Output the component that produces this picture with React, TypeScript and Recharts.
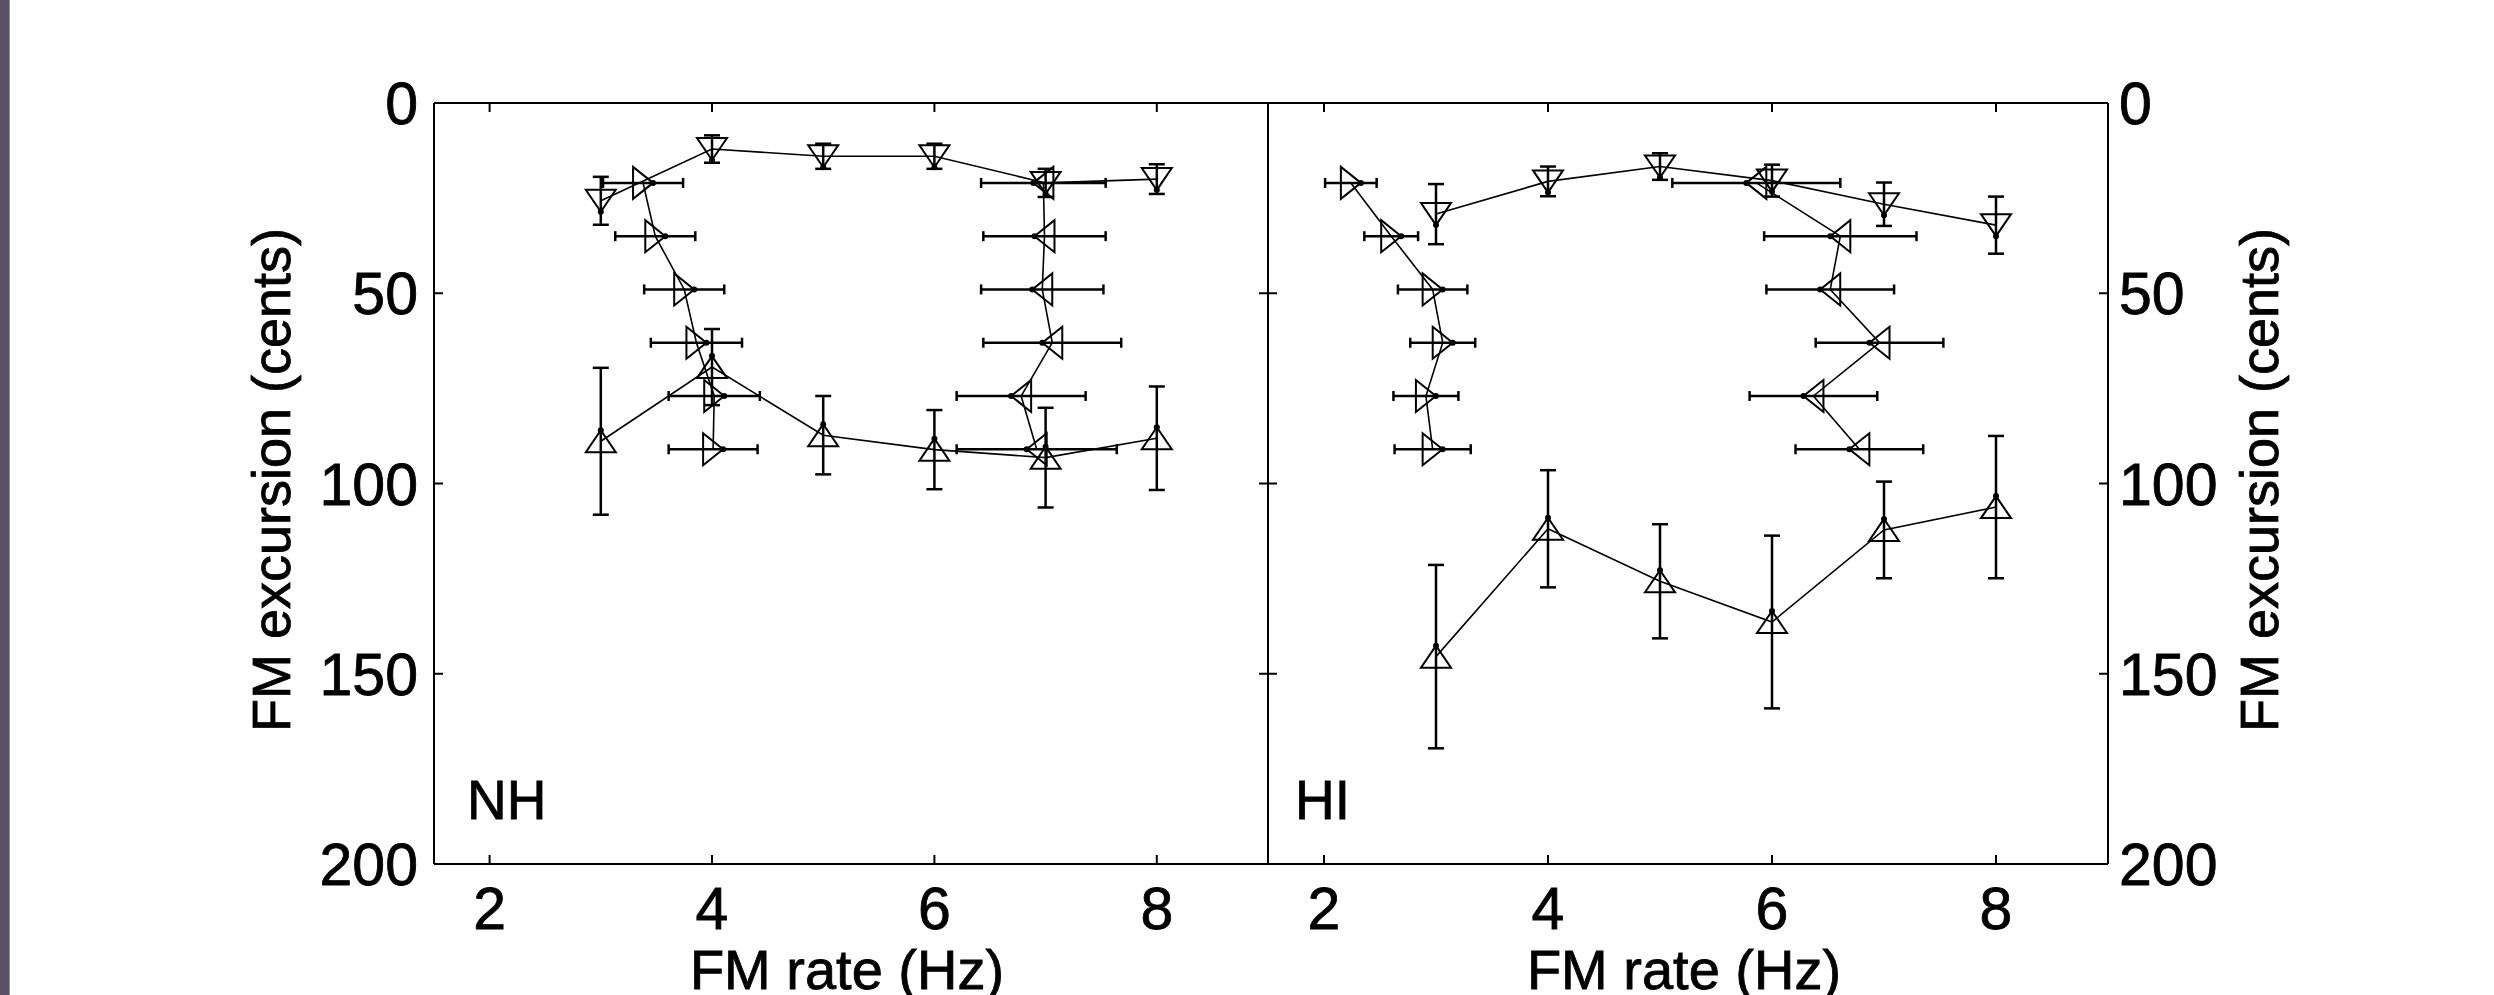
import React from 'react'
import { ScatterChart, Scatter, XAxis, YAxis, ErrorBar } from 'recharts'

// fixed FM rates (Hz) used by the vertical-error-bar conditions
const rates = [3, 4, 5, 6, 7, 8]
// fixed FM excursions (cents) used by the horizontal-error-bar conditions
const excursions = [21, 35, 49, 63, 77, 91]

const rateTicks = [2, 4, 6, 8]
const excursionTicks = [0, 50, 100, 150, 200]

// NH listeners
const nhDown = [25.7, 12.1, 14, 14, 21, 20]
const nhDownErr = [6.3, 3.6, 3.3, 3.3, 3.7, 3.9]
const nhUp = [88.9, 69.4, 87.3, 91.1, 93.2, 88.1]
const nhUpErr = [19.3, 10, 10.3, 10.4, 13.1, 13.6]
const nhRight = [3.38, 3.49, 3.75, 3.86, 4.02, 4.01]
const nhRightErr = [0.36, 0.36, 0.36, 0.41, 0.41, 0.4]
const nhLeft = [6.98, 6.99, 6.97, 7.06, 6.78, 6.92]
const nhLeftErr = [0.56, 0.55, 0.55, 0.62, 0.58, 0.72]

// HI listeners
const hiDown = [29.2, 20.6, 16.7, 20.4, 26.6, 32.1]
const hiDownErr = [7.9, 3.9, 3.5, 4.2, 5.7, 7.5]
const hiUp = [145.5, 111.9, 125.7, 136.4, 112.2, 106.2]
const hiUpErr = [24.1, 15.4, 15, 22.7, 12.7, 18.7]
const hiRight = [2.24, 2.6, 2.97, 3.06, 2.91, 2.97]
const hiRightErr = [0.23, 0.24, 0.31, 0.29, 0.29, 0.34]
const hiLeft = [5.86, 6.61, 6.52, 6.96, 6.37, 6.78]
const hiLeftErr = [0.75, 0.68, 0.57, 0.57, 0.57, 0.57]

const FONT = '"Liberation Sans", Arial, Helvetica, sans-serif'
const INK = '#000'
const TICK = 9
const TICK_FS = 59
const TITLE_FS = 54
// the original glyphs are a little heavier than Liberation Sans regular
const heavy = { stroke: INK, strokeWidth: 0.8 }

type Pt = { x: number; y: number; e: number }

const byRate = (ys: number[], errs: number[]): Pt[] =>
  rates.map((x, i) => ({ x, y: ys[i], e: errs[i] }))
const byExcursion = (xs: number[], errs: number[]): Pt[] =>
  excursions.map((y, i) => ({ x: xs[i], y, e: errs[i] }))

type Dir = 'up' | 'down' | 'left' | 'right'

// open triangle with a small dot at its tip, like the original markers
function triangle(dir: Dir) {
  return (props: any) => {
    const { cx, cy } = props
    if (cx == null || cy == null) return <g />
    const b = 15
    const h = 11
    let pts: number[][]
    switch (dir) {
      case 'up':
        pts = [[cx, cy - h], [cx - b, cy + h], [cx + b, cy + h]]
        break
      case 'down':
        pts = [[cx, cy + h], [cx - b, cy - h], [cx + b, cy - h]]
        break
      case 'left':
        pts = [[cx - h + 1, cy], [cx + h - 1, cy - b - 1], [cx + h - 1, cy + b + 1]]
        break
      default:
        pts = [[cx + h - 1, cy], [cx - h + 1, cy - b - 1], [cx - h + 1, cy + b + 1]]
    }
    return (
      <g>
        <polygon
          points={pts.map((p) => p.join(',')).join(' ')}
          fill="none"
          stroke={INK}
          strokeWidth={2}
        />
        <circle cx={pts[0][0]} cy={pts[0][1]} r={3} fill={INK} />
      </g>
    )
  }
}

function BottomTick({ x, y, payload }: any) {
  return (
    <g>
      <line x1={x} y1={y} x2={x} y2={y - TICK} stroke={INK} strokeWidth={2} />
      <text x={x} y={y + 65} textAnchor="middle" fontFamily={FONT} fontSize={TICK_FS} fill={INK} {...heavy}>
        {payload.value}
      </text>
    </g>
  )
}

function TopTick({ x, y }: any) {
  return <line x1={x} y1={y} x2={x} y2={y + TICK} stroke={INK} strokeWidth={2} />
}

function LeftTick({ x, y, payload, labels }: any) {
  return (
    <g>
      <line x1={x} y1={y} x2={x + TICK} y2={y} stroke={INK} strokeWidth={2} />
      {labels && (
        <text x={x - 16} y={y + 21} textAnchor="end" fontFamily={FONT} fontSize={TICK_FS} fill={INK} {...heavy}>
          {payload.value}
        </text>
      )}
    </g>
  )
}

function RightTick({ x, y, payload, labels }: any) {
  return (
    <g>
      <line x1={x} y1={y} x2={x - TICK} y2={y} stroke={INK} strokeWidth={2} />
      {labels && (
        <text x={x + 11} y={y + 21} textAnchor="start" fontFamily={FONT} fontSize={TICK_FS} fill={INK} {...heavy}>
          {payload.value}
        </text>
      )}
    </g>
  )
}

interface PanelProps {
  width: number
  margin: { top: number; right: number; bottom: number; left: number }
  labelSide: 'left' | 'right'
  down: Pt[]
  up: Pt[]
  right: Pt[]
  left: Pt[]
}

const axisLine = { stroke: INK, strokeWidth: 2 }
const lineStyle = { stroke: INK, strokeWidth: 1.6 }

function Panel({ width, margin, labelSide, down, up, right, left }: PanelProps) {
  const xCommon = {
    type: 'number' as const,
    dataKey: 'x',
    domain: [1.5, 9],
    ticks: rateTicks,
    interval: 0 as const,
    height: 1,
    tickSize: 0,
    tickMargin: 0,
    tickLine: false,
    axisLine,
    allowDataOverflow: true,
  }
  const yCommon = {
    type: 'number' as const,
    dataKey: 'y',
    domain: [0, 200],
    ticks: excursionTicks,
    interval: 0 as const,
    reversed: true,
    width: 1,
    tickSize: 0,
    tickMargin: 0,
    tickLine: false,
    axisLine,
    allowDataOverflow: true,
  }
  return (
    <ScatterChart width={width} height={995} margin={margin}>
      <XAxis {...xCommon} xAxisId="b" orientation="bottom" tick={<BottomTick />} />
      <XAxis {...xCommon} xAxisId="t" orientation="top" tick={<TopTick />} />
      <YAxis
        {...yCommon}
        yAxisId="l"
        orientation="left"
        tick={<LeftTick labels={labelSide === 'left'} />}
      />
      <YAxis
        {...yCommon}
        yAxisId="r"
        orientation="right"
        tick={<RightTick labels={labelSide === 'right'} />}
      />
      <Scatter
        xAxisId="b"
        yAxisId="l"
        data={down}
        shape={triangle('down')}
        line={lineStyle}
        lineType="joint"
        isAnimationActive={false}
      >
        <ErrorBar dataKey="e" direction="y" width={8} stroke={INK} strokeWidth={2.5} isAnimationActive={false} />
      </Scatter>
      <Scatter
        xAxisId="b"
        yAxisId="l"
        data={up}
        shape={triangle('up')}
        line={lineStyle}
        lineType="joint"
        isAnimationActive={false}
      >
        <ErrorBar dataKey="e" direction="y" width={8} stroke={INK} strokeWidth={2.5} isAnimationActive={false} />
      </Scatter>
      <Scatter
        xAxisId="b"
        yAxisId="l"
        data={right}
        shape={triangle('right')}
        line={lineStyle}
        lineType="joint"
        isAnimationActive={false}
      >
        <ErrorBar dataKey="e" direction="x" width={5} stroke={INK} strokeWidth={2.5} isAnimationActive={false} />
      </Scatter>
      <Scatter
        xAxisId="b"
        yAxisId="l"
        data={left}
        shape={triangle('left')}
        line={lineStyle}
        lineType="joint"
        isAnimationActive={false}
      >
        <ErrorBar dataKey="e" direction="x" width={5} stroke={INK} strokeWidth={2.5} isAnimationActive={false} />
      </Scatter>
    </ScatterChart>
  )
}

export default function App() {
  const textProps = { fontFamily: FONT, fill: INK, ...heavy }
  return (
    <div
      style={{
        position: 'absolute',
        left: 0,
        top: 0,
        width: 2494,
        height: 995,
        background: '#fff',
        overflow: 'hidden',
      }}
    >
      <div
        style={{
          position: 'absolute',
          left: 0,
          top: 0,
          width: 9,
          height: 995,
          background: '#5c5067',
          borderRight: '1px solid #968ca0',
        }}
      />
      <div style={{ position: 'absolute', left: 0, top: 0 }}>
        <Panel
          width={1300}
          margin={{ top: 102, right: 31, bottom: 130, left: 433 }}
          labelSide="left"
          down={byRate(nhDown, nhDownErr)}
          up={byRate(nhUp, nhUpErr)}
          right={byExcursion(nhRight, nhRightErr)}
          left={byExcursion(nhLeft, nhLeftErr)}
        />
      </div>
      <div style={{ position: 'absolute', left: 1240, top: 0 }}>
        <Panel
          width={1254}
          margin={{ top: 102, right: 385, bottom: 130, left: 27 }}
          labelSide="right"
          down={byRate(hiDown, hiDownErr)}
          up={byRate(hiUp, hiUpErr)}
          right={byExcursion(hiRight, hiRightErr)}
          left={byExcursion(hiLeft, hiLeftErr)}
        />
      </div>
      <svg
        width={2494}
        height={995}
        style={{ position: 'absolute', left: 0, top: 0, pointerEvents: 'none' }}
      >
        <text {...textProps} fontSize={TITLE_FS} textAnchor="middle" transform="translate(290,480) rotate(-90)">
          FM excursion (cents)
        </text>
        <text {...textProps} fontSize={TITLE_FS} textAnchor="middle" transform="translate(2278,480) rotate(-90)">
          FM excursion (cents)
        </text>
        <text {...textProps} fontSize={TITLE_FS + 2} textAnchor="middle" x={847} y={989}>
          FM rate (Hz)
        </text>
        <text {...textProps} fontSize={TITLE_FS + 2} textAnchor="middle" x={1684} y={989}>
          FM rate (Hz)
        </text>
        <text {...textProps} fontSize={55} x={467} y={819}>
          NH
        </text>
        <text {...textProps} fontSize={55} x={1295} y={819}>
          HI
        </text>
      </svg>
    </div>
  )
}
